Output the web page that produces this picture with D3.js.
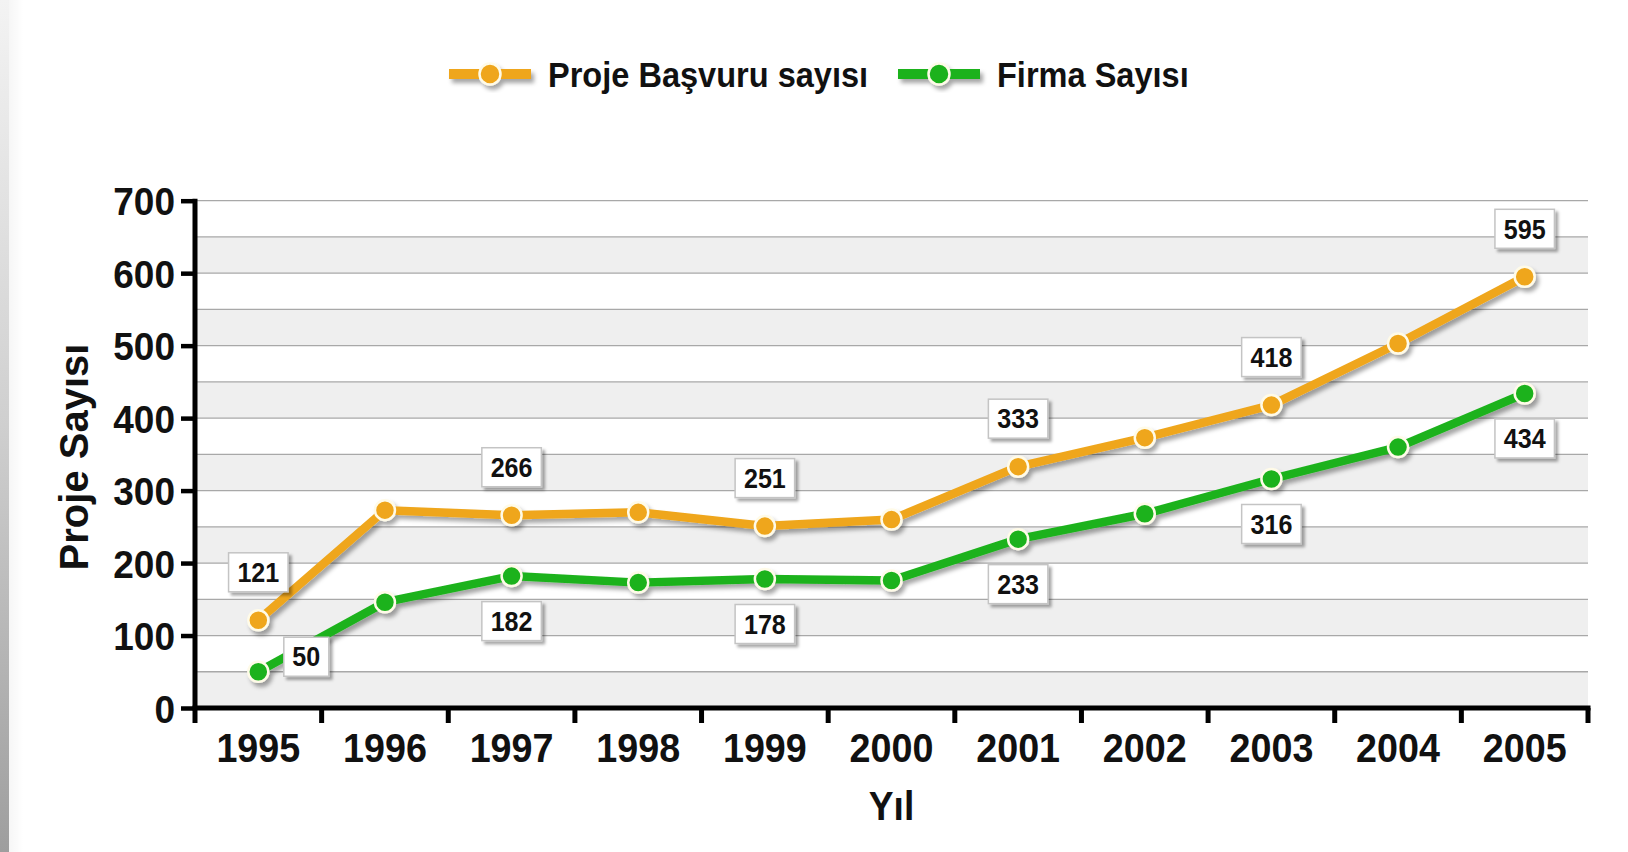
<!DOCTYPE html>
<html>
<head>
<meta charset="utf-8">
<script src="https://cdn.jsdelivr.net/npm/d3@7"></script>
<style>
  html, body { margin: 0; padding: 0; background: #fff; }
  svg { display: block; }
  text { font-family: "Liberation Sans", Arial, Helvetica, sans-serif; font-weight: bold; fill: #111; }
</style>
</head>
<body>
<svg id="chart" width="1628" height="852"></svg>
<script>
// ---- data ----
const years = ["1995","1996","1997","1998","1999","2000","2001","2002","2003","2004","2005"];
const projeBasvuru = [121, 273, 266, 270, 251, 260, 333, 373, 418, 503, 595];
const firmaSayisi  = [50, 146, 182, 173, 178, 176, 233, 268, 316, 360, 434];
const projeLabelShown = [true, false, true, false, true, false, true, false, true, false, true];
const firmaLabelShown = [true, false, true, false, true, false, true, false, true, false, true];
const projeLabelSide = ["above","above","above","above","above","above","above","above","above","above","above"];
const firmaLabelSide = ["right","below","below","below","below","below","below","below","below","below","below"];
const yTicks = [0, 100, 200, 300, 400, 500, 600, 700];
const seriesNames = ["Proje Başvuru sayısı", "Firma Sayısı"];
const seriesColors = ["#efa61b", "#1cb21c"];
const yTitle = "Proje Sayısı";
const xTitle = "Yıl";

// ---- layout ----
const W = 1628, H = 852;
const pLeft = 195, pRight = 1588, pTop = 200.7, pBottom = 708;

const svg = d3.select("#chart");
const defs = svg.append("defs");

const grad = defs.append("linearGradient").attr("id","edge").attr("x1",0).attr("y1",0).attr("x2",0).attr("y2",1);
grad.append("stop").attr("offset","0%").attr("stop-color","#f3f3f3");
grad.append("stop").attr("offset","50%").attr("stop-color","#cfcfcf");
grad.append("stop").attr("offset","100%").attr("stop-color","#9e9e9e");
const gradH = defs.append("linearGradient").attr("id","edgeFade").attr("x1",0).attr("y1",0).attr("x2",1).attr("y2",0);
gradH.append("stop").attr("offset","0%").attr("stop-color","#fff").attr("stop-opacity",0);
gradH.append("stop").attr("offset","100%").attr("stop-color","#fff").attr("stop-opacity",1);

const sh = defs.append("filter").attr("id","shadow").attr("x","-20%").attr("y","-20%").attr("width","140%").attr("height","160%");
sh.append("feDropShadow").attr("dx",3).attr("dy",4).attr("stdDeviation",2.2)
  .attr("flood-color","#000").attr("flood-opacity",0.35);
const shBox = defs.append("filter").attr("id","boxshadow").attr("x","-20%").attr("y","-20%").attr("width","150%").attr("height","160%");
shBox.append("feDropShadow").attr("dx",3).attr("dy",3).attr("stdDeviation",1.8)
  .attr("flood-color","#000").attr("flood-opacity",0.35);

// background
svg.append("rect").attr("width",W).attr("height",H).attr("fill","#fff");
svg.append("rect").attr("x",0).attr("y",0).attr("width",9).attr("height",H).attr("fill","url(#edge)");
svg.append("rect").attr("x",9).attr("y",0).attr("width",14).attr("height",H).attr("fill","#f6f6f6");
svg.append("rect").attr("x",9).attr("y",0).attr("width",14).attr("height",H).attr("fill","url(#edgeFade)");

// scales
const x = d3.scaleBand().domain(years).range([pLeft, pRight]).padding(0);
const y = d3.scaleLinear().domain([0, 700]).range([pBottom, pTop]);
const cx = d => x(d) + x.bandwidth() / 2;

// alternating bands
const bandStarts = d3.range(0, 700, 50);
svg.append("g").selectAll("rect").data(bandStarts).join("rect")
  .attr("x", pLeft).attr("width", pRight - pLeft)
  .attr("y", d => y(d + 50)).attr("height", d => y(d) - y(d + 50))
  .attr("fill", (d, i) => i % 2 === 0 ? "#efefef" : "#ffffff");

// grid lines
svg.append("g").selectAll("line").data(d3.range(50, 701, 50)).join("line")
  .attr("x1", pLeft).attr("x2", pRight)
  .attr("y1", d => y(d)).attr("y2", d => y(d))
  .attr("stroke", "#a8a8a8").attr("stroke-width", 1.3);

// axes
const yAxis = d3.axisLeft(y).tickValues(yTicks).tickSize(14).tickPadding(6).tickFormat(d3.format("d"));
const gy = svg.append("g").attr("transform", `translate(${pLeft},0)`).call(yAxis);
gy.select(".domain").remove();
gy.selectAll(".tick line").attr("stroke", "#000").attr("stroke-width", 4.5);
gy.selectAll(".tick text").attr("font-size", 39).attr("font-family", "Liberation Sans, Arial, sans-serif")
  .attr("font-weight", "bold").attr("fill", "#111").attr("dy", "0.36em")
  .attr("transform", "translate(-20,0) scale(0.95,1) translate(20,0)");

const xAxis = d3.axisBottom(x).tickSize(0).tickPadding(24);
const gx = svg.append("g").attr("transform", `translate(0,${pBottom})`).call(xAxis);
gx.select(".domain").remove();
gx.selectAll(".tick text").attr("font-size", 41).attr("font-family", "Liberation Sans, Arial, sans-serif")
  .attr("font-weight", "bold").attr("fill", "#111").attr("dy", "0.72em")
  .attr("transform", "scale(0.92,1)");
// x boundary ticks
const boundaries = years.map(d => x(d)).concat([pRight]);
svg.append("g").selectAll("line").data(boundaries).join("line")
  .attr("x1", d => d).attr("x2", d => d)
  .attr("y1", pBottom).attr("y2", pBottom + 15)
  .attr("stroke", "#000").attr("stroke-width", 5);
// axis lines
svg.append("line").attr("x1", pLeft).attr("x2", pLeft).attr("y1", pTop - 2).attr("y2", pBottom + 2)
  .attr("stroke", "#000").attr("stroke-width", 5);
svg.append("line").attr("x1", pLeft - 2.5).attr("x2", pRight + 2.5).attr("y1", pBottom).attr("y2", pBottom)
  .attr("stroke", "#000").attr("stroke-width", 5);

// axis titles
svg.append("text").attr("transform", `translate(88,457) rotate(-90)`)
  .attr("text-anchor", "middle").attr("font-size", 40).text(yTitle);
svg.append("text").attr("transform", `translate(${(pLeft + pRight) / 2},820) scale(0.93,1)`)
  .attr("text-anchor", "middle").attr("font-size", 40).text(xTitle);

// series
const series = [
  { name: seriesNames[0], values: projeBasvuru, color: seriesColors[0], shown: projeLabelShown, side: projeLabelSide },
  { name: seriesNames[1], values: firmaSayisi, color: seriesColors[1], shown: firmaLabelShown, side: firmaLabelSide }
];
const line = d3.line().x((d, i) => cx(years[i])).y(d => y(d));

series.forEach(s => {
  const g = svg.append("g").attr("filter", "url(#shadow)");
  g.append("path").datum(s.values).attr("d", line)
    .attr("fill", "none").attr("stroke", s.color).attr("stroke-width", 8.5)
    .attr("stroke-linejoin", "round").attr("stroke-linecap", "round");
  g.selectAll("circle").data(s.values).join("circle")
    .attr("cx", (d, i) => cx(years[i])).attr("cy", d => y(d)).attr("r", 10)
    .attr("fill", s.color).attr("stroke", "#fffbe8").attr("stroke-width", 2.5);
});

// data labels
const labelFont = 27;
series.forEach(s => {
  const items = s.values.map((v, i) => ({ v, i, side: s.side[i] })).filter(d => s.shown[d.i]);
  const g = svg.append("g");
  items.forEach(d => {
    let lx = cx(years[d.i]), ly = y(d.v);
    if (d.side === "above") ly -= 48;
    else if (d.side === "below") ly += 45;
    else if (d.side === "right") { lx += 48; ly -= 15; }
    const txt = String(d.v);
    const bw = txt.length * 14.5 + 16, bh = 39;
    g.append("rect").attr("x", lx - bw / 2).attr("y", ly - bh / 2).attr("width", bw).attr("height", bh)
      .attr("fill", "#fff").attr("stroke", "#c4c4c4").attr("stroke-width", 1.5)
      .attr("filter", "url(#boxshadow)");
    g.append("text").attr("transform", `translate(${lx},${ly}) scale(0.93,1)`).attr("dy", "0.36em")
      .attr("text-anchor", "middle").attr("font-size", labelFont).text(txt);
  });
});

// legend
const legendItems = [
  { name: seriesNames[0], color: seriesColors[0], x0: 449 },
  { name: seriesNames[1], color: seriesColors[1], x0: 898 }
];
const legY = 74;
legendItems.forEach(it => {
  const g = svg.append("g").attr("filter", "url(#shadow)");
  g.append("line").attr("x1", it.x0).attr("x2", it.x0 + 82).attr("y1", legY).attr("y2", legY)
    .attr("stroke", it.color).attr("stroke-width", 10);
  g.append("circle").attr("cx", it.x0 + 41).attr("cy", legY).attr("r", 10.5)
    .attr("fill", it.color).attr("stroke", "#fffbe8").attr("stroke-width", 2.5);
  svg.append("text").attr("transform", `translate(${it.x0 + 99},${legY}) scale(0.93,1)`).attr("dy", "0.36em")
    .attr("font-size", 35).text(it.name);
});
</script>
</body>
</html>
